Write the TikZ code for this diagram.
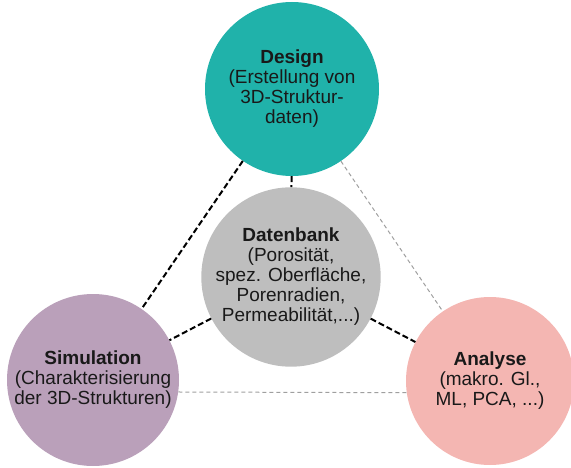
\documentclass[tikz,border=0pt]{standalone}
\usepackage{fontspec}
\setmainfont{Liberation Sans}
\definecolor{designteal}{RGB}{32,178,170}
\definecolor{dbgray}{RGB}{190,190,190}
\definecolor{simlilac}{RGB}{186,160,186}
\definecolor{anapink}{RGB}{244,182,178}
\begin{document}
\begin{tikzpicture}[x=1pt, y=-1pt,
  phasenode/.style={circle, inner sep=0pt, align=center, text=black!90,
                    font=\fontsize{19}{20}\selectfont},
  strongline/.style={line width=2pt, dash pattern=on 6pt off 3pt},
  weakline/.style={gray!75, line width=1pt, dash pattern=on 4pt off 3pt}
]
  \useasboundingbox (0,0) rectangle (571,468);

  \node[phasenode, fill=designteal, minimum size=174pt] (des) at (292, 89)
    {\textbf{Design}\\(Erstellung von\\3D-Struktur-\\daten)};
  \node[phasenode, fill=dbgray, minimum size=156pt] (db) at (291, 277)
    {\textbf{Datenbank}\\(Porosität,\\spez. Oberfläche,\\Porenradien,\\Permeabilität,...)};
  \node[phasenode, fill=simlilac, minimum size=172pt] (sim) at (93, 380)
    {\textbf{Simulation}\\(Charakterisierung\\der 3D-Strukturen)};
  \node[phasenode, fill=anapink, minimum size=168pt] (ana) at (490, 381)
    {\textbf{Analyse}\\(makro. Gl.,\\ML, PCA, ...)};

  \draw[strongline] (des) -- (sim);
  \draw[strongline] (des) -- (db);
  \draw[strongline] (db) -- (sim);
  \draw[strongline] (db) -- (ana);
  \draw[weakline] (des) -- (ana);
  \draw[weakline] (sim.-8) -- (ana.188);
\end{tikzpicture}
\end{document}
